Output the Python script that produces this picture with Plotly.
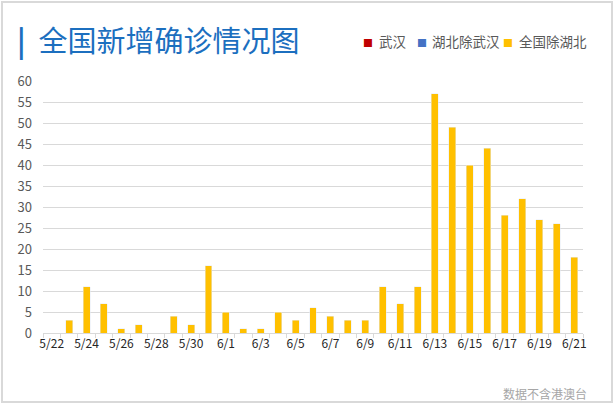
import plotly.graph_objects as go

dates = ["5/22", "5/23", "5/24", "5/25", "5/26", "5/27", "5/28", "5/29", "5/30", "5/31",
         "6/1", "6/2", "6/3", "6/4", "6/5", "6/6", "6/7", "6/8", "6/9", "6/10",
         "6/11", "6/12", "6/13", "6/14", "6/15", "6/16", "6/17", "6/18", "6/19", "6/20", "6/21"]
wuhan = [0] * 31
hubei_ex_wuhan = [0] * 31
national_ex_hubei = [0, 3, 11, 7, 1, 2, 0, 4, 2, 16,
                     5, 1, 1, 5, 3, 6, 4, 3, 3, 11,
                     7, 11, 57, 49, 40, 44, 28, 32, 27, 26, 18]
tick_labels = [d if i % 2 == 0 else "" for i, d in enumerate(dates)]
series_names = ["武汉", "湖北除武汉", "全国除湖北"]
series_colors = ["#C00000", "#4472C4", "#FFC000"]

W, H = 615, 406
ML, MR, MT, MB = 43, 32, 81, 73
PW, PH = W - ML - MR, H - MT - MB

def px(x):
    return (x - ML) / PW

def py(y):
    return (H - MB - y) / PH

FONT = "Noto Sans CJK SC"

fig = go.Figure()
for name, vals, col in zip(series_names, [wuhan, hubei_ex_wuhan, national_ex_hubei], series_colors):
    fig.add_bar(x=dates, y=vals, name=name, marker_color=col, showlegend=False)

fig.update_layout(
    width=W, height=H,
    margin=dict(l=ML, r=MR, t=MT, b=MB, autoexpand=False),
    paper_bgcolor="white", plot_bgcolor="white",
    barmode="stack", bargap=0.6,
    font=dict(family=FONT, size=12, color="#595959"),
    title=dict(text="<b>|</b>\u00a0\u00a0全国新增确诊情况图", x=17 / W, xanchor="left", y=1 - 42 / H, yanchor="middle",
               font=dict(family=FONT, size=29, color="#1C6FBF")),
    showlegend=False,
    xaxis=dict(type="category", tickmode="array", tickvals=dates, ticktext=tick_labels,
               tickangle=0, ticks="outside", tickson="boundaries", ticklen=4, tickcolor="#d9d9d9",
               showline=True, linecolor="#d9d9d9", linewidth=1, showgrid=False,
               tickfont=dict(family=FONT, size=12, color="#262626")),
    yaxis=dict(range=[0, 60], dtick=5, showgrid=True, gridcolor="#d9d9d9", gridwidth=1,
               zeroline=False, showline=False, ticks="", ticklabelstandoff=10,
               tickfont=dict(family=FONT, size=13, color="#595959")),
)

# legend drawn as text: colored square + label
legend_sq_x = [368, 422, 508]
legend_tx_x = [377, 430, 517]
for name, col, sx, tx in zip(series_names, series_colors, legend_sq_x, legend_tx_x):
    fig.add_annotation(text="■", xref="paper", yref="paper", x=px(sx), y=py(42),
                       xanchor="center", yanchor="middle", showarrow=False,
                       font=dict(family=FONT, size=10, color=col))
    fig.add_annotation(text=name, xref="paper", yref="paper", x=px(tx), y=py(41),
                       xanchor="left", yanchor="middle", showarrow=False,
                       font=dict(family=FONT, size=13.5, color="#595959"))

fig.add_annotation(text="数据不含港澳台", xref="paper", yref="paper", x=px(589), y=py(393),
                   xanchor="right", yanchor="middle", showarrow=False,
                   font=dict(family=FONT, size=12, color="#A6A6A6"))

fig.add_shape(type="rect", xref="paper", yref="paper", x0=px(2), x1=px(612), y0=py(402), y1=py(2),
              line=dict(color="#D9D9D9", width=2), fillcolor="rgba(0,0,0,0)", layer="below")

fig.write_html("out.html", config={"displayModeBar": False},
               post_script="document.body.style.margin='0';document.body.style.padding='0';")
